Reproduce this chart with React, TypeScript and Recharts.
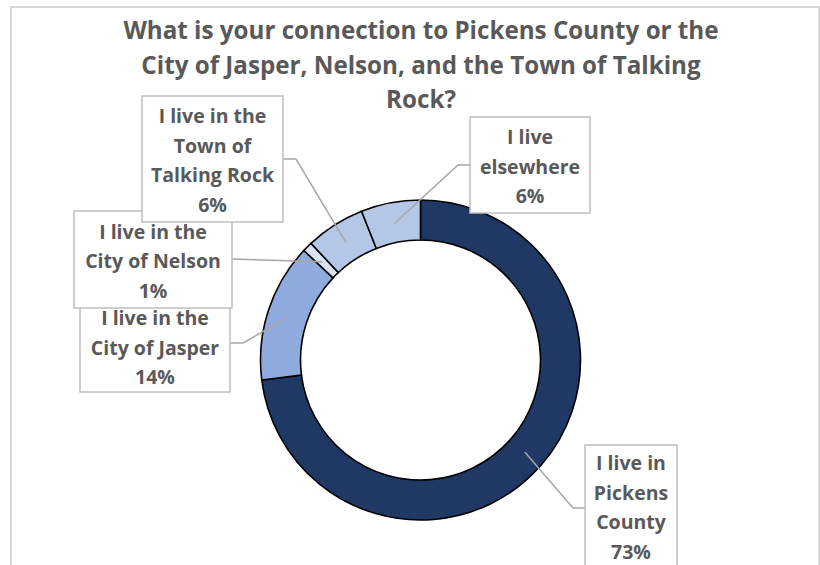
import React from 'react';
import { PieChart, Pie, Cell } from 'recharts';

// Survey answers, share of respondents in percent
const categories = [
  'I live in Pickens County',
  'I live in the City of Jasper',
  'I live in the City of Nelson',
  'I live in the Town of Talking Rock',
  'I live elsewhere',
];
const shares = [73, 14, 1, 6, 6];
const labelLines = [
  ['I live in', 'Pickens', 'County'],
  ['I live in the', 'City of Jasper'],
  ['I live in the', 'City of Nelson'],
  ['I live in the', 'Town of', 'Talking Rock'],
  ['I live', 'elsewhere'],
];
const titleLines = [
  'What is your connection to Pickens County or the',
  'City of Jasper, Nelson, and the Town of Talking',
  'Rock?',
];

const colors = ['#203864', '#8FAADC', '#DAE3F3', '#B4C7E7', '#B4C7E7'];

// manual placement of the callout boxes (Excel style), page coords
const boxes = [
  { x: 585, y: 445, w: 92, h: 140, mid: 507, edge: [585, 508], elbow: [573, 508] },
  { x: 80, y: 300, w: 150, h: 92, mid: 347, edge: [230, 343], elbow: [243, 343] },
  { x: 74, y: 211, w: 158, h: 97, mid: 260.5, edge: [232, 259], elbow: null },
  { x: 142, y: 96, w: 141, h: 126, mid: 160, edge: [283, 159], elbow: [296, 159] },
  { x: 470, y: 117, w: 120, h: 96, mid: 166, edge: [470, 165], elbow: [458, 165] },
];

const FONT = '"Open Sans", Lato, sans-serif';
const TEXT = '#595959';
const RAD = Math.PI / 180;

const data = categories.map((name, i) => ({ name, value: shares[i] }));

function renderLabel(props: any) {
  const { cx, cy, midAngle, innerRadius, outerRadius, index, value } = props;
  const b = boxes[index];
  const r = (innerRadius + outerRadius) / 2 - 1;
  const ax = cx + r * Math.cos(-midAngle * RAD);
  const ay = cy + r * Math.sin(-midAngle * RAD);
  const pts = [[ax, ay]];
  if (b.elbow) pts.push(b.elbow);
  pts.push(b.edge);
  const lines = [...labelLines[index], `${value}%`];
  const lh = 29.5;
  return (
    <g key={`lbl-${index}`}>
      <polyline
        points={pts.map(p => p.join(',')).join(' ')}
        fill="none"
        stroke="#A6A6A6"
        strokeWidth={1.5}
      />
      <rect x={b.x} y={b.y} width={b.w} height={b.h} fill="#fff" stroke="#BFBFBF" strokeWidth={1.5} />
      {lines.map((t, i) => (
        <text
          key={i}
          x={b.x + b.w / 2}
          y={b.mid + (i - (lines.length - 1) / 2) * lh}
          textAnchor="middle"
          dominantBaseline="central"
          fontFamily={FONT}
          fontWeight={700}
          fontSize={19.5}
          fill={TEXT}
        >
          {t}
        </text>
      ))}
    </g>
  );
}

export default function App() {
  return (
    <div style={{ position: 'absolute', left: 0, top: 0, width: 820, height: 565, overflow: 'hidden', background: '#fff' }}>
      <div
        style={{
          position: 'absolute',
          left: 10,
          top: 6,
          width: 806,
          height: 620,
          border: '2px solid #D9D9D9',
        }}
      />
      <div
        style={{
          position: 'absolute',
          left: 0,
          top: 13,
          width: 842,
          textAlign: 'center',
          fontFamily: FONT,
          fontWeight: 700,
          fontSize: 24.2,
          lineHeight: '34.5px',
          color: TEXT,
        }}
      >
        {titleLines.map(t => (
          <div key={t}>{t}</div>
        ))}
      </div>
      <div style={{ position: 'absolute', left: 0, top: 0 }}>
        <PieChart width={820} height={565}>
          <Pie
            data={data}
            dataKey="value"
            nameKey="name"
            cx={415.5}
            cy={355}
            innerRadius={120}
            outerRadius={160}
            startAngle={90}
            endAngle={-270}
            stroke="#000"
            strokeWidth={1.6}
            labelLine={false}
            label={renderLabel}
            isAnimationActive={false}
          >
            {data.map((_d, i) => (
              <Cell key={`cell-${i}`} fill={colors[i]} />
            ))}
          </Pie>
        </PieChart>
      </div>
    </div>
  );
}
